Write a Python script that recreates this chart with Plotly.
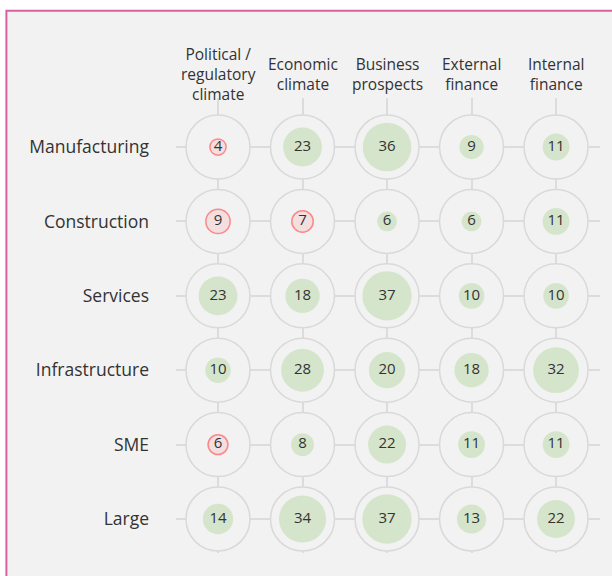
import plotly.graph_objects as go

# rows / columns of the grid
rows = ["Manufacturing", "Construction", "Services", "Infrastructure", "SME", "Large"]
cols = ["Political /<br>regulatory<br>climate", "Economic<br>climate",
        "Business<br>prospects", "External<br>finance", "Internal<br>finance"]

# negative values are drawn in red (label shows the magnitude)
manufacturing = [-4, 23, 36, 9, 11]
construction = [-9, -7, 6, 6, 11]
services = [23, 18, 37, 10, 10]
infrastructure = [10, 28, 20, 18, 32]
sme = [-6, 8, 22, 11, 11]
large = [14, 34, 37, 13, 22]
values = [manufacturing, construction, services, infrastructure, sme, large]

BG = "#f2f2f2"
GRID = "#dcdcdc"
TXT = "#333333"
FONT = "Open Sans"

xs, ys, vs = [], [], []
for r, row in enumerate(values):
    for c, v in enumerate(row):
        xs.append(c)
        ys.append(r)
        vs.append(v)

fig = go.Figure()

# outer rings
fig.add_trace(go.Scatter(
    x=xs, y=ys, mode="markers", hoverinfo="skip",
    marker=dict(size=64, color=BG, line=dict(color="#d9d9d9", width=1.5)),
))

# value bubbles
fig.add_trace(go.Scatter(
    x=xs, y=ys, mode="markers+text",
    text=[str(abs(v)) for v in vs],
    textposition="middle center",
    textfont=dict(family=FONT, size=15, color=TXT),
    marker=dict(
        size=[abs(v) for v in vs],
        sizemode="area",
        sizeref=2 / 65.6,
        color=["#f5d7d9" if v < 0 else "#c9dfbb" for v in vs],
        line=dict(color=["#ff5c5c" if v < 0 else "rgba(0,0,0,0)" for v in vs],
                  width=[1.5 if v < 0 else 0 for v in vs]),
    ),
))

# column headers
for i, name in enumerate(cols):
    fig.add_annotation(x=i, y=1.053, xref="x", yref="paper", text=name,
                       showarrow=False, yanchor="middle", xanchor="center",
                       font=dict(family=FONT, size=15.5, color=TXT))

# card background with pink border
fig.add_shape(type="rect", xref="paper", yref="paper", layer="below",
              x0=-0.400, x1=1.1, y0=-0.2, y1=1.192,
              fillcolor=BG, line=dict(color="#d6639f", width=2))

fig.update_xaxes(range=[-0.497, 4.52], tickvals=list(range(len(cols))),
                 showticklabels=False, showgrid=True, gridcolor=GRID, gridwidth=1.5,
                 zeroline=False, showline=False, fixedrange=True)
fig.update_yaxes(range=[5.457, -0.659], tickvals=list(range(len(rows))), ticktext=rows,
                 showgrid=True, gridcolor=GRID, gridwidth=1.5, zeroline=False,
                 showline=False, ticks="", ticklabelstandoff=26,
                 tickfont=dict(family=FONT, size=17.5, color=TXT), fixedrange=True)

fig.update_layout(
    width=612, height=576,
    margin=dict(l=176, r=12, t=98, b=23),
    paper_bgcolor="white", plot_bgcolor="rgba(0,0,0,0)",
    showlegend=False,
)

# page has a default 8px body margin; drop it so the card lines up
fig.write_html("out.html", config={"displayModeBar": False},
               post_script="document.body.style.margin='0';")
